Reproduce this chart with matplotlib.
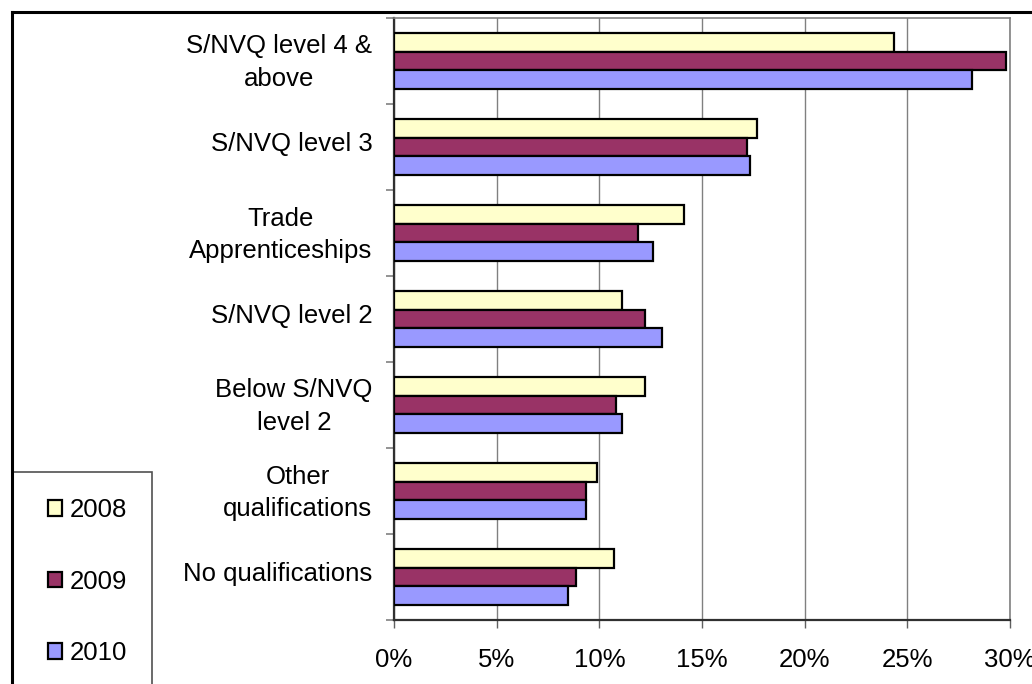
import matplotlib
matplotlib.use("Agg")
import matplotlib.pyplot as plt
import matplotlib.transforms as mtransforms
from matplotlib.lines import Line2D
from matplotlib.patches import Rectangle
from matplotlib.ticker import FixedLocator, FuncFormatter

categories = ["S/NVQ level 4 &\nabove", "S/NVQ level 3", "Trade\nApprenticeships",
              "S/NVQ level 2", "Below S/NVQ\nlevel 2", "Other\nqualifications",
              "No qualifications"]
series_names = ["2008", "2009", "2010"]
v2008 = [24.35, 17.7, 14.1, 11.1, 12.2, 9.9, 10.7]
v2009 = [29.8, 17.2, 11.9, 12.2, 10.8, 9.35, 8.85]
v2010 = [28.15, 17.35, 12.6, 13.05, 11.1, 9.35, 8.45]
colors = ["#FFFFCC", "#993366", "#9999FF"]
xticks = [0, 5, 10, 15, 20, 25, 30]

W, H = 1032, 684
fig = plt.figure(figsize=(W / 100, H / 100), dpi=100)
plt.rcParams['font.family'] = ['Liberation Sans', 'DejaVu Sans']
FS = 18.5

ax = fig.add_axes([394 / W, 1 - 620 / H, (1010 - 394) / W, (620 - 18) / H])

bh = 0.22
ypos = list(range(len(categories)))
handles = []
for k, (vals, col, name) in enumerate(zip([v2008, v2009, v2010], colors, series_names)):
    off = (k - 1) * bh
    b = ax.barh([y + off for y in ypos], vals, height=bh, color=col,
                edgecolor="black", linewidth=1.6, label=name, zorder=3)
    handles.append(b)

ax.set_xlim(0, 30)
ax.set_ylim(len(categories) - 0.5, -0.5)
ax.set_xticks(xticks)
ax.xaxis.set_major_formatter(FuncFormatter(lambda v, p: f"{int(v)}%"))
ax.tick_params(axis="x", labelsize=FS, length=6, width=1, color="#606060", pad=14)
ax.grid(axis="x", color="#808080", linewidth=1.0, zorder=0)

ax.set_yticks(ypos)
ax.set_yticklabels(categories, fontsize=FS, multialignment="center", linespacing=1.45)
ax.tick_params(axis="y", which="major", length=0, pad=15.5)
shift = mtransforms.ScaledTranslation(0, 5 / 100, fig.dpi_scale_trans)
for lab in ax.get_yticklabels():
    lab.set_transform(lab.get_transform() + shift)
ax.yaxis.set_minor_locator(FixedLocator([i - 0.5 for i in range(len(categories) + 1)]))
ax.tick_params(axis="y", which="minor", length=6, width=1.2, color="#808080")

for s in ["top", "right"]:
    ax.spines[s].set_color("#808080")
    ax.spines[s].set_linewidth(1.2)
for s in ["left", "bottom"]:
    ax.spines[s].set_color("#303030")
    ax.spines[s].set_linewidth(1.6)

# outer chart frame (cropped)
fig.add_artist(Line2D([12 / W, 1.01], [1 - 12 / H, 1 - 12 / H], color="black", lw=2.2,
                      transform=fig.transFigure))
fig.add_artist(Line2D([12 / W, 12 / W], [1 - 12 / H, -0.01], color="black", lw=2.2,
                      transform=fig.transFigure))
# legend box (cropped)
fig.add_artist(Rectangle((12 / W, -0.05), (152 - 12) / W, 0.05 + 1 - 472 / H,
                         fill=False, edgecolor="#505050", lw=1.2, transform=fig.transFigure))

leg = fig.legend(handles=handles, labels=series_names, loc="upper left",
                 bbox_to_anchor=(30 / W, 1 - 480 / H), bbox_transform=fig.transFigure,
                 frameon=False, fontsize=FS, handlelength=0.55, handleheight=0.55,
                 handletextpad=0.3, labelspacing=1.85, borderpad=0.2)

fig.savefig("out.png", dpi=100)
